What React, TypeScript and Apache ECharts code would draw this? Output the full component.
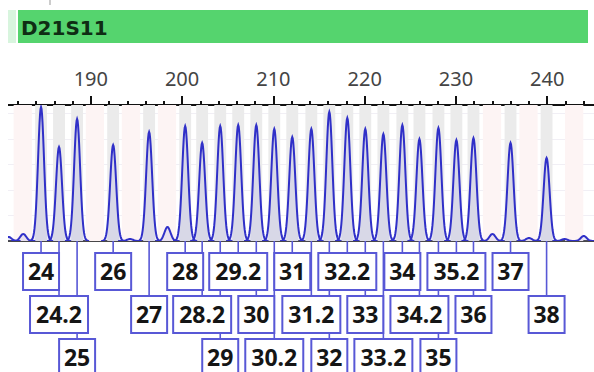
import React, { useEffect, useRef } from "react";
import * as echarts from "echarts";

// ---- data ----
const locusName = "D21S11";
const alleleNames = ["24", "24.2", "25", "26", "27", "28", "28.2", "29", "29.2", "30", "30.2", "31", "31.2", "32", "32.2", "33", "33.2", "34", "34.2", "35", "35.2", "36", "37", "38"];
const allelePositions = [184.55, 186.52, 188.5, 192.45, 196.39, 200.34, 202.2, 204.18, 206.15, 208.13, 210.1, 212.07, 214.16, 216.13, 218.1, 220.07, 222.05, 224.13, 226.0, 228.08, 230.05, 231.92, 235.98, 239.93];
const alleleHeights = [1340, 940, 1220, 960, 1090, 1150, 980, 1150, 1160, 1160, 1120, 1040, 1120, 1290, 1230, 1120, 1070, 1160, 1020, 1130, 1010, 1030, 980, 830];
const noisePositions = [181.0, 182.6, 194.3, 198.4, 234.0, 238.0, 241.9, 244.0];
const noiseHeights = [40, 70, 20, 140, 70, 30, 20, 50];
const virtualBinPositions = [182.55, 190.45, 194.4, 198.35, 233.95, 237.95, 242.95];
const axisMin = 180;
const axisMax = 246;
const tickStep = 10;
const rfuMax = 1360;

const BLUE = "#3030c8";
const BOX_BLUE = "#5858d6";

function boxWidth(name: string) {
  return name.indexOf(".") >= 0 ? 58 : 36;
}

function layoutRows(api: any) {
  const rowEnds = [-Infinity, -Infinity, -Infinity];
  return alleleNames.map((name, i) => {
    const x = api.coord([allelePositions[i], 0])[0];
    const w = boxWidth(name);
    const left = x - w / 2;
    let row = 0;
    while (row < rowEnds.length - 1 && left - rowEnds[row] < 3.5) row++;
    rowEnds[row] = left + w;
    return { x, w, row };
  });
}

function peakShape(api: any, pos: number, h: number) {
  const top = api.coord([pos, h]);
  const base = api.coord([pos, 0]);
  const sigma = 3.0;
  const amp = base[1] - top[1];
  const pts: number[][] = [];
  for (let dx = -4 * sigma; dx <= 4 * sigma + 0.01; dx += 0.5) {
    pts.push([top[0] + dx, base[1] - amp * Math.exp(-(dx * dx) / (2 * sigma * sigma))]);
  }
  return {
    type: "group",
    children: [
      { type: "polygon", shape: { points: pts }, style: { fill: "rgba(90,90,210,0.13)" } },
      { type: "polyline", shape: { points: pts }, style: { stroke: BLUE, lineWidth: 2, fill: "none" } },
    ],
  };
}

const ROW_GAP = 43;
const BOX_H = 37;
const FIRST_ROW = 12;

export default function App() {
  const ref = useRef<HTMLDivElement>(null);
  useEffect(() => {
    if (!ref.current) return;
    const chart = echarts.init(ref.current, undefined, { renderer: "svg" });
    const option: any = {
      animation: false,
      grid: { left: 0.5, right: 0, top: 105, bottom: 131 },
      xAxis: [
        {
          type: "value",
          position: "top",
          min: axisMin,
          max: axisMax,
          interval: tickStep,
          axisLine: { onZero: false, lineStyle: { color: "#111", width: 2 } },
          axisTick: { show: true, inside: false, length: 9, lineStyle: { color: "#111", width: 2 } },
          minorTick: { show: true, splitNumber: 5, length: 4, lineStyle: { color: "#111", width: 2 } },
          axisLabel: { margin: 17, fontSize: 20, color: "#444", fontFamily: "Noto Sans", showMinLabel: false, showMaxLabel: false },
          splitLine: { show: false },
        },
        {
          type: "value",
          position: "bottom",
          min: axisMin,
          max: axisMax,
          axisLine: { onZero: false, lineStyle: { color: "#111", width: 1.5 } },
          axisTick: { show: false },
          axisLabel: { show: false },
          splitLine: { show: false },
        },
      ],
      yAxis: {
        type: "value",
        min: 0,
        max: rfuMax,
        interval: 255,
        axisLine: { show: false },
        axisTick: { show: false },
        axisLabel: { show: false },
        splitLine: { lineStyle: { color: "#f1eff5", width: 1 } },
      },
      graphic: [
        { type: "rect", shape: { x: 9, y: 10, width: 8, height: 33 }, style: { fill: "#d8f5de" } },
        { type: "rect", shape: { x: 19, y: 10, width: 570, height: 33 }, style: { fill: "#55d46e" } },
        {
          type: "text",
          x: 22,
          y: 28,
          style: { text: locusName, fontFamily: "DejaVu Sans", fontWeight: "bold", fontSize: 20, fill: "#0f2d14", verticalAlign: "middle", align: "left" },
        },
        { type: "line", shape: { x1: 51, y1: 0, x2: 51, y2: 5 }, style: { stroke: "#999", lineWidth: 1 } },
        { type: "rect", z: 100, shape: { x: 0, y: 92, width: 9, height: 155 }, style: { fill: "#fff" } },
      ],
      series: [
        {
          type: "custom",
          name: "virtual bins",
          z: 1,
          clip: true,
          data: virtualBinPositions.map((p) => [p, 0]),
          renderItem: (params: any, api: any) => {
            const p = virtualBinPositions[params.dataIndex];
            const a = api.coord([p - 1.0, rfuMax]);
            const b = api.coord([p + 1.0, 0]);
            return { type: "rect", shape: { x: a[0], y: a[1], width: b[0] - a[0], height: b[1] - a[1] }, style: { fill: "#fdf4f4" } };
          },
        },
        {
          type: "custom",
          name: "bins",
          z: 2,
          clip: true,
          data: allelePositions.map((p) => [p, 0]),
          renderItem: (params: any, api: any) => {
            const p = allelePositions[params.dataIndex];
            const a = api.coord([p - 0.65, rfuMax]);
            const b = api.coord([p + 0.65, 0]);
            return { type: "rect", shape: { x: a[0], y: a[1], width: b[0] - a[0], height: b[1] - a[1] }, style: { fill: "#ebebeb" } };
          },
        },
        {
          type: "custom",
          name: "noise",
          z: 3,
          clip: true,
          data: noisePositions.map((p, i) => [p, noiseHeights[i]]),
          renderItem: (params: any, api: any) =>
            peakShape(api, noisePositions[params.dataIndex], noiseHeights[params.dataIndex]),
        },
        {
          type: "custom",
          name: "peaks",
          z: 4,
          clip: true,
          data: allelePositions.map((p, i) => [p, alleleHeights[i]]),
          renderItem: (params: any, api: any) =>
            peakShape(api, allelePositions[params.dataIndex], alleleHeights[params.dataIndex]),
        },
        {
          type: "custom",
          name: "connectors",
          z: 5,
          clip: false,
          data: allelePositions.map((p, i) => [p, alleleHeights[i]]),
          renderItem: (params: any, api: any) => {
            const lay = layoutRows(api)[params.dataIndex];
            const base = api.coord([allelePositions[params.dataIndex], 0])[1];
            const top = base + FIRST_ROW + lay.row * ROW_GAP;
            return { type: "line", shape: { x1: lay.x, y1: base, x2: lay.x, y2: top }, style: { stroke: BOX_BLUE, lineWidth: 1.6 } };
          },
        },
        {
          type: "custom",
          name: "labels",
          z: 6,
          clip: false,
          data: allelePositions.map((p, i) => [p, alleleHeights[i]]),
          renderItem: (params: any, api: any) => {
            const i = params.dataIndex;
            const lay = layoutRows(api)[i];
            const base = api.coord([allelePositions[i], 0])[1];
            const top = base + FIRST_ROW + lay.row * ROW_GAP;
            return {
              type: "group",
              children: [
                { type: "rect", shape: { x: lay.x - lay.w / 2, y: top, width: lay.w, height: BOX_H }, style: { fill: "#fff", stroke: BOX_BLUE, lineWidth: 2 } },
                {
                  type: "text",
                  style: {
                    text: alleleNames[i],
                    x: lay.x,
                    y: top + 18,
                    align: "center",
                    verticalAlign: "middle",
                    fontFamily: "Noto Sans",
                    fontWeight: "bold",
                    fontSize: 23,
                    fill: "#151515",
                  },
                },
              ],
            };
          },
        },
      ],
    };
    chart.setOption(option);
    return () => chart.dispose();
  }, []);
  return <div ref={ref} style={{ position: "fixed", left: -1, top: 0, width: 603, height: 372, background: "#fff" }} />;
}
